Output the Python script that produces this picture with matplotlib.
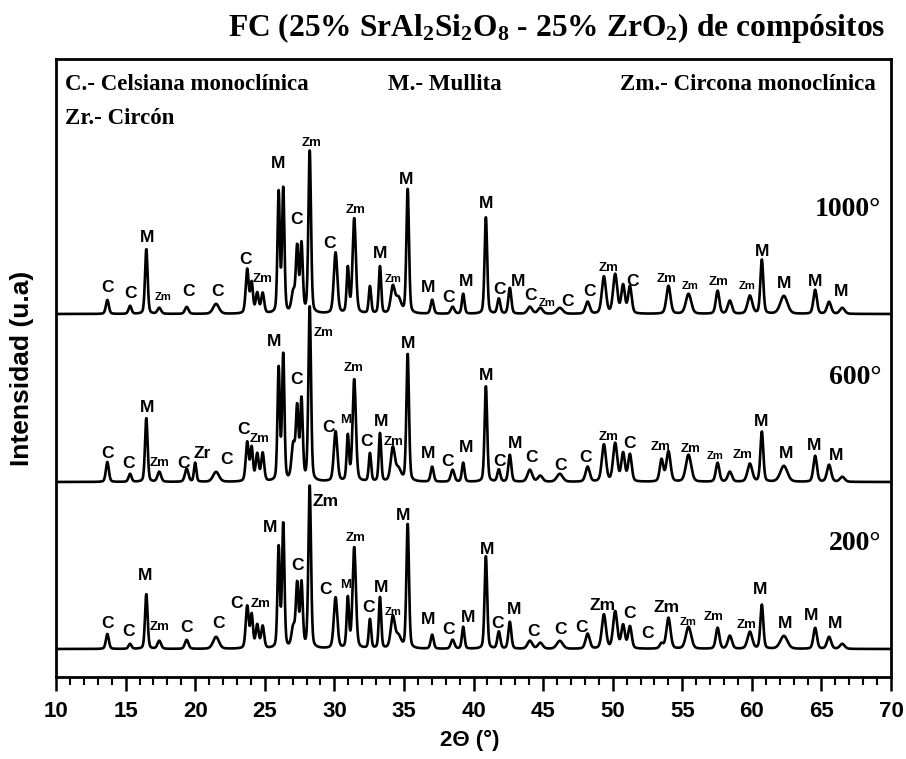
import numpy as np
import matplotlib
matplotlib.use('Agg')
import matplotlib.pyplot as plt
from matplotlib.ticker import MultipleLocator, NullLocator

plt.rcParams['mathtext.default'] = 'regular'

# ---------------- data ----------------
peak_pos = [13.69, 15.32, 16.49, 17.42, 19.39, 20.00, 21.50, 23.74, 24.06, 24.46,
            24.85, 26.00, 26.33, 27.05, 27.33, 27.64, 28.23, 30.09, 30.97, 31.43,
            32.56, 33.28, 34.20, 34.60, 35.27, 37.03, 38.50, 39.26, 40.89, 41.82,
            42.61, 44.05, 44.80, 46.20, 48.20, 49.37, 50.18, 50.75, 51.24, 53.51,
            54.01, 55.45, 57.54, 58.42, 59.86, 60.72, 62.30, 64.55, 65.55, 66.50]
peak_fwhm = [.25, .25, .22, .30, .30, .20, .50, .25, .22, .25,
             .25, .20, .20, .30, .22, .22, .22, .30, .20, .28,
             .20, .20, .35, .45, .22, .25, .30, .22, .22, .25,
             .25, .40, .40, .50, .35, .35, .35, .30, .30, .30,
             .35, .45, .30, .35, .40, .25, .60, .30, .35, .40]
int_1000 = [14, 8, 65, 6, 7, 0, 10, 44, 30, 20,
            20, 120, 124, 20, 64, 68, 163, 61, 45, 95,
            27, 47, 26, 15, 125, 14, 7, 20, 97, 15,
            26, 7, 6, 6, 12, 37, 39, 28, 27, 0,
            28, 20, 23, 13, 18, 54, 18, 24, 12, 6]
int_600 = [20, 8, 64, 10, 13, 19, 10, 39, 33, 27,
           28, 112, 126, 35, 70, 80, 175, 50, 45, 102,
           28, 48, 33, 12, 128, 15, 12, 19, 96, 12,
           27, 12, 6, 8, 15, 37, 38, 28, 27, 22,
           30, 27, 19, 10, 18, 50, 16, 26, 17, 5]
int_200 = [15, 5, 55, 8, 9, 0, 12, 42, 33, 23,
           22, 100, 124, 20, 62, 64, 163, 51, 50, 101,
           29, 51, 31, 12, 125, 14, 9, 22, 93, 17,
           27, 8, 6, 8, 15, 34, 37, 23, 22, 5,
           31, 22, 21, 13, 17, 44, 13, 21, 12, 5]
temps = ['1000°', '600°', '200°']
offsets = [363, 195, 28]

# phase labels: (text, 2theta, height above baseline, size class)
lab_1000 = [('C', 13.69, 26, 'L'), ('C', 15.32, 20, 'L'), ('M', 16.52, 76, 'L'), ('Zm', 17.69, 17, 'XS'),
            ('C', 19.55, 22, 'L'), ('C', 21.64, 23, 'L'), ('C', 23.63, 54, 'L'), ('Zm', 24.82, 35, 'S'),
            ('M', 25.93, 151, 'L'), ('C', 27.29, 95, 'L'), ('Zm', 28.37, 171, 'S'), ('C', 29.68, 71, 'L'),
            ('Zm', 31.55, 104, 'S'), ('M', 33.28, 60, 'L'), ('Zm', 34.19, 35, 'XS'), ('M', 35.19, 135, 'L'),
            ('M', 36.75, 27, 'L'), ('C', 38.18, 17, 'L'), ('M', 39.50, 32, 'L'), ('M', 40.89, 110, 'L'),
            ('C', 41.90, 24, 'L'), ('M', 43.21, 32, 'L'), ('C', 44.10, 18, 'L'), ('Zm', 45.29, 11, 'XS'),
            ('C', 46.73, 12, 'L'), ('C', 48.31, 22, 'L'), ('Zm', 49.68, 46, 'S'), ('C', 51.43, 33, 'L'),
            ('Zm', 53.87, 35, 'S'), ('Zm', 55.55, 28, 'XS'), ('Zm', 57.58, 32, 'S'), ('Zm', 59.66, 28, 'XS'),
            ('M', 60.77, 62, 'L'), ('M', 62.30, 31, 'L'), ('M', 64.55, 32, 'L'), ('M', 66.44, 22, 'L')]
lab_600 = [('C', 13.69, 29, 'L'), ('C', 15.24, 19, 'L'), ('M', 16.52, 75, 'L'), ('Zm', 17.47, 19, 'S'),
           ('C', 19.15, 19, 'L'), ('Zr', 20.47, 29, 'L'), ('C', 22.26, 22, 'L'), ('C', 23.46, 52, 'L'),
           ('Zm', 24.66, 43, 'S'), ('M', 25.66, 141, 'L'), ('C', 27.29, 102, 'L'), ('Zm', 29.20, 149, 'S'),
           ('C', 29.56, 54, 'L'), ('M', 30.83, 62, 'S'), ('Zm', 31.41, 114, 'S'), ('C', 32.32, 40, 'L'),
           ('M', 33.33, 61, 'L'), ('Zm', 34.23, 40, 'S'), ('M', 35.27, 139, 'L'), ('M', 36.75, 28, 'L'),
           ('C', 38.13, 20, 'L'), ('M', 39.50, 34, 'L'), ('M', 40.89, 107, 'L'), ('C', 41.85, 20, 'L'),
           ('M', 42.97, 39, 'L'), ('C', 44.17, 25, 'L'), ('C', 46.26, 16, 'L'), ('C', 48.05, 24, 'L'),
           ('Zm', 49.73, 45, 'S'), ('C', 51.24, 39, 'L'), ('Zm', 53.46, 35, 'S'), ('Zm', 55.60, 33, 'S'),
           ('Zm', 57.34, 26, 'XS'), ('Zm', 59.33, 27, 'S'), ('M', 60.69, 60, 'L'), ('M', 62.49, 29, 'L'),
           ('M', 64.45, 36, 'L'), ('M', 66.03, 27, 'L')]
lab_200 = [('C', 13.69, 26, 'L'), ('C', 15.20, 17, 'L'), ('M', 16.39, 74, 'L'), ('Zm', 17.47, 22, 'S'),
           ('C', 19.39, 22, 'L'), ('C', 21.66, 25, 'L'), ('C', 22.98, 46, 'L'), ('Zm', 24.70, 45, 'S'),
           ('M', 25.37, 122, 'L'), ('C', 27.34, 84, 'L'), ('Zm', 29.40, 148, 'L'), ('C', 29.35, 60, 'L'),
           ('M', 30.83, 64, 'S'), ('Zm', 31.55, 111, 'S'), ('C', 32.44, 42, 'L'), ('M', 33.35, 62, 'L'),
           ('Zm', 34.23, 37, 'XS'), ('M', 34.95, 134, 'L'), ('M', 36.75, 30, 'L'), ('C', 38.23, 19, 'L'),
           ('M', 39.62, 32, 'L'), ('M', 40.98, 100, 'L'), ('C', 41.73, 26, 'L'), ('M', 42.90, 40, 'L'),
           ('C', 44.29, 18, 'L'), ('C', 46.26, 19, 'L'), ('C', 47.77, 22, 'L'), ('Zm', 49.27, 44, 'L'),
           ('C', 51.24, 36, 'L'), ('C', 52.48, 15, 'L'), ('Zm', 53.87, 42, 'L'), ('Zm', 55.42, 27, 'XS'),
           ('Zm', 57.27, 32, 'S'), ('Zm', 59.62, 24, 'S'), ('M', 60.57, 59, 'L'), ('M', 62.37, 26, 'L'),
           ('M', 64.29, 33, 'L'), ('M', 65.96, 26, 'L')]

xticks = [10, 15, 20, 25, 30, 35, 40, 45, 50, 55, 60, 65, 70]

# ---------------- figure ----------------
fig = plt.figure(figsize=(9.06, 7.59), dpi=100)
ax = fig.add_axes([56/906, 1-677/759, 835/906, 618/759])

x = np.linspace(10, 70, 3001)
P = np.array(peak_pos)[:, None]
W = np.array(peak_fwhm)[:, None]
d = (x[None, :] - P) / W
eta = 0.3
shape = eta / (1 + 4*d**2) + (1-eta) * np.exp(-4*np.log(2)*d**2)

sizes = {'L': 12.5, 'S': 9.5, 'XS': 8}
lab_sets = [lab_1000, lab_600, lab_200]
for ints, off, temp, labs in zip([int_1000, int_600, int_200], offsets, temps, lab_sets):
    y = off + (np.array(ints)[:, None] * shape).sum(axis=0)
    ax.plot(x, y, color='black', lw=1.9)
    for t, px, ry, s in labs:
        ax.text(px, off + ry, t, ha='center', va='center', fontsize=sizes[s],
                fontweight='bold', family='Liberation Sans')
    ax.text(69.3, off + 105, temp, ha='right', va='center', fontsize=20,
            fontweight='bold', family='Liberation Serif')

ax.set_xlim(10, 70)
ax.set_ylim(0, 618)
ax.set_xticks(xticks)
ax.xaxis.set_minor_locator(MultipleLocator(1))
ax.yaxis.set_major_locator(NullLocator())
ax.tick_params(axis='x', which='major', direction='out', length=10, width=1.8, pad=7,
               labelsize=16)
ax.tick_params(axis='x', which='minor', direction='out', length=6, width=1.5)
for lab in ax.get_xticklabels():
    lab.set_fontweight('bold')
    lab.set_family('Liberation Sans')
for sp in ax.spines.values():
    sp.set_linewidth(2)

fig.text(470/906, 1-740/759, '2Θ (°)', ha='center', va='center', fontsize=16,
         fontweight='bold', family='Liberation Sans')
fig.text(22/906, 1-368/759, 'Intensidad (u.a)', ha='center', va='center', rotation=90,
         fontsize=19, fontweight='bold', family='Liberation Sans')

fig.text(885/906, 1-36/759, 'FC (25% SrAl$_2$Si$_2$O$_8$ - 25% ZrO$_2$) de compósitos',
         ha='right', va='baseline', fontsize=22.7, fontweight='bold', family='Liberation Serif')

leg_kw = dict(fontsize=16.5, fontweight='bold', family='Liberation Serif', va='center',
              transform=ax.transAxes)
ax.text(0.011, 0.9595, 'C.- Celsiana monoclínica', ha='left', **leg_kw)
ax.text(0.398, 0.9595, 'M.- Mullita', ha='left', **leg_kw)
ax.text(0.982, 0.9595, 'Zm.- Circona monoclínica', ha='right', **leg_kw)
ax.text(0.011, 0.9045, 'Zr.- Circón', ha='left', **leg_kw)

fig.savefig('out.png', dpi=100)
